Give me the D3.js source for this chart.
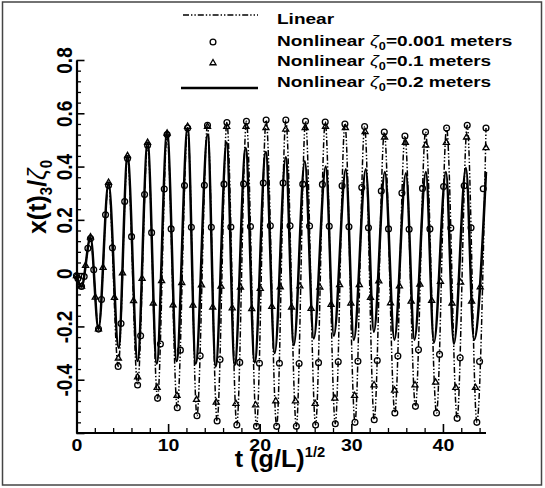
<!DOCTYPE html>
<html><head><meta charset="utf-8">
<script src="https://cdn.jsdelivr.net/npm/d3@7"></script>
<style>
body{margin:0;background:#fff}
svg{display:block}
text{font-family:"Liberation Sans",Arial,Helvetica,sans-serif;font-weight:bold;fill:#000}
</style>
</head><body>
<svg id="c" width="545" height="488"></svg>
<script>
// ---- data: [t, x(t)3/zeta0] ----
const linearPts = [[0,-0.01],[0.55,-0.05],[1.53,0.13],[2.4,-0.21],[3.5,0.33],[4.55,-0.35],[5.57,0.43],[6.67,-0.42],[7.76,0.48],[8.85,-0.47],[9.89,0.52],[11.0,-0.505],[12.13,0.545],[13.15,-0.535],[14.3,0.555],[15.35,-0.555],[16.42,0.565],[17.5,-0.57],[18.55,0.57],[19.65,-0.575],[20.7,0.575],[21.85,-0.575],[22.85,0.575],[24.0,-0.575],[25.0,0.57],[26.1,-0.57],[27.15,0.567],[28.25,-0.565],[29.3,0.56],[30.4,-0.56],[31.45,0.55],[32.5,-0.55],[33.6,0.53],[34.75,-0.525],[35.85,0.515],[37.0,-0.5],[38.1,0.53],[39.3,-0.525],[40.4,0.545],[41.55,-0.545],[42.65,0.555],[43.7,-0.56],[44.7,0.545]];

const nl001Pts = [[0,-0.01],[0.15,-0.02],[0.55,-0.05],[0.84,-0.013],[1.24,0.093],[1.53,0.13],[1.88,0.013],[2.4,-0.21],[2.73,-0.099],[3.17,0.219],[3.5,0.33],[3.92,0.095],[4.55,-0.35],[4.86,-0.189],[5.26,0.269],[5.57,0.43],[6.01,0.137],[6.67,-0.42],[7.0,-0.235],[7.43,0.295],[7.76,0.48],[8.2,0.152],[8.85,-0.47],[9.16,-0.266],[9.58,0.316],[9.89,0.52],[10.33,0.166],[11.0,-0.505],[11.34,-0.289],[11.79,0.329],[12.13,0.545],[12.54,0.172],[13.15,-0.535],[13.5,-0.31],[13.96,0.33],[14.3,0.555],[14.72,0.172],[15.35,-0.555],[15.67,-0.324],[16.1,0.334],[16.42,0.565],[16.85,0.173],[17.5,-0.57],[17.82,-0.335],[18.24,0.335],[18.55,0.57],[18.99,0.175],[19.65,-0.575],[19.97,-0.338],[20.39,0.338],[20.7,0.575],[21.16,0.178],[21.85,-0.575],[22.15,-0.338],[22.55,0.338],[22.85,0.575],[23.31,0.178],[24.0,-0.575],[24.3,-0.339],[24.7,0.334],[25.0,0.57],[25.44,0.177],[26.1,-0.57],[26.42,-0.336],[26.84,0.333],[27.15,0.567],[27.59,0.176],[28.25,-0.565],[28.57,-0.333],[28.99,0.328],[29.3,0.56],[29.74,0.174],[30.4,-0.56],[30.72,-0.331],[31.14,0.321],[31.45,0.55],[31.87,0.17],[32.5,-0.55],[32.83,-0.328],[33.27,0.308],[33.6,0.53],[34.06,0.166],[34.75,-0.525],[35.08,-0.311],[35.52,0.301],[35.85,0.515],[36.31,0.165],[37.0,-0.5],[37.33,-0.288],[37.77,0.318],[38.1,0.53],[38.58,0.166],[39.3,-0.525],[39.63,-0.305],[40.07,0.325],[40.4,0.545],[40.86,0.169],[41.55,-0.545],[41.88,-0.318],[42.32,0.328],[42.65,0.555],[43.07,0.17],[43.7,-0.56],[44.0,-0.332],[44.4,0.317],[44.7,0.545]];

const nl01Pts = [[0,-0.01],[0.55,-0.05],[0.99,0.028],[1.53,0.135],[2.05,-0.091],[2.4,-0.21],[2.9,0.021],[3.5,0.34],[4.14,-0.092],[4.57,-0.32],[5.02,0.0],[5.57,0.44],[6.23,-0.104],[6.67,-0.39],[7.16,-0.02],[7.76,0.49],[8.38,-0.113],[8.8,-0.43],[9.29,-0.029],[9.89,0.525],[10.54,-0.12],[10.97,-0.46],[11.49,-0.036],[12.13,0.55],[12.71,-0.121],[13.1,-0.475],[13.64,-0.045],[14.3,0.55],[14.87,-0.128],[15.25,-0.485],[15.77,-0.05],[16.4,0.55],[17.0,-0.131],[17.4,-0.49],[17.9,-0.053],[18.5,0.55],[19.13,-0.134],[19.55,-0.495],[20.06,-0.058],[20.68,0.545],[21.32,-0.126],[21.75,-0.48],[22.24,-0.052],[22.84,0.54],[23.48,-0.128],[23.9,-0.48],[24.38,-0.049],[24.96,0.545],[25.61,-0.133],[26.05,-0.49],[26.56,-0.053],[27.18,0.55],[27.79,-0.118],[28.2,-0.47],[28.72,-0.044],[29.35,0.545],[29.95,-0.113],[30.35,-0.46],[30.87,-0.044],[31.5,0.53],[32.09,-0.092],[32.48,-0.42],[33.0,-0.03],[33.63,0.51],[34.28,-0.112],[34.72,-0.44],[35.25,-0.049],[35.9,0.49],[36.53,-0.106],[36.95,-0.42],[37.48,-0.042],[38.12,0.48],[38.77,-0.103],[39.2,-0.41],[39.73,-0.032],[40.37,0.49],[40.99,-0.113],[41.4,-0.43],[41.93,-0.035],[42.58,0.51],[43.13,-0.106],[43.55,-0.43],[44.07,-0.052],[44.7,0.47]];

const nl02Pts = [[0,-0.01],[0.55,-0.05],[1.53,0.135],[2.4,-0.21],[3.5,0.34],[4.59,-0.28],[5.57,0.44],[6.67,-0.33],[7.76,0.49],[8.76,-0.34],[9.89,0.53],[10.93,-0.33],[12.13,0.545],[13.01,-0.34],[14.32,0.52],[15.19,-0.35],[16.39,0.49],[17.27,-0.345],[18.47,0.47],[19.45,-0.335],[20.66,0.455],[21.64,-0.3],[22.84,0.435],[23.72,-0.27],[24.92,0.42],[25.9,-0.245],[27.21,0.4],[28.09,-0.235],[29.4,0.39],[30.27,-0.25],[31.58,0.39],[32.46,-0.22],[33.66,0.38],[34.7,-0.25],[35.96,0.375],[36.89,-0.25],[38.14,0.38],[39.02,-0.26],[40.33,0.38],[41.2,-0.265],[42.51,0.395],[43.39,-0.25],[44.7,0.38]];

const xMajorTicks = [0, 10, 20, 30, 40];
const xMinorTicks = [2,4,6,8,12,14,16,18,22,24,26,28,32,34,36,38,42,44];
const yMajorTicks = [-0.6,-0.4,-0.2,0,0.2,0.4,0.6,0.8];
const yMinorTicks = d3.range(-15, 21).filter(i => i % 5 !== 0).map(i => +(i * 0.04).toFixed(2));
const legendZeta = [null, "0.001", "0.1", "0.2"];

// ---- layout ----
const svg = d3.select("#c");
const x = d3.scaleLinear().domain([0, 44.7]).range([76.5, 486]);
const y = d3.scaleLinear().domain([-0.6, 0.8]).range([433, 60]);
const DASH = "6,2,1.4,2,1.4,2";

svg.append("rect").attr("x",2.5).attr("y",2).attr("width",539).attr("height",483)
  .attr("fill","none").attr("stroke","#444").attr("stroke-width",1.5);

const line = d3.line().x(d => x(d[0])).y(d => y(d[1])).curve(d3.curveMonotoneX);

svg.append("path").datum(linearPts).attr("d", line)
  .attr("fill","none").attr("stroke","#000").attr("stroke-width",1.5).attr("stroke-dasharray",DASH);
svg.append("path").datum(nl02Pts).attr("d", line)
  .attr("fill","none").attr("stroke","#000").attr("stroke-width",2.5).attr("stroke-linejoin","round");

const tri = d3.symbol().type(d3.symbolTriangle).size(16);
svg.append("g").selectAll("path").data(nl01Pts).join("path")
  .attr("d", tri).attr("transform", d => `translate(${x(d[0])},${y(d[1])})`)
  .attr("fill","none").attr("stroke","#000").attr("stroke-width",1.3);
svg.append("g").selectAll("circle").data(nl001Pts).join("circle")
  .attr("cx", d => x(d[0])).attr("cy", d => y(d[1])).attr("r",2.9)
  .attr("fill","none").attr("stroke","#000").attr("stroke-width",1.3);

// ---- axes ----
const fmt = d => d === -0.6 ? "" : String(+(+d).toFixed(1));
const gx = svg.append("g").attr("transform","translate(0,433)")
  .call(d3.axisBottom(x).tickValues(xMajorTicks).tickSizeInner(-9).tickSizeOuter(0).tickPadding(6).tickFormat(d => String(d)));
gx.select(".domain").attr("stroke-width",2.2).attr("d","M" + x.range()[0] + ",0H" + x.range()[1]);
gx.selectAll(".tick line").attr("stroke-width",1.6);
gx.attr("font-family",null).attr("font-size",null);
gx.selectAll(".tick text").attr("font-size",17).attr("transform","scale(1.15,1)");

const gxm = svg.append("g").attr("transform","translate(0,433)")
  .call(d3.axisBottom(x).tickValues(xMinorTicks).tickSizeInner(-5).tickSizeOuter(0).tickFormat(() => ""));
gxm.select(".domain").remove();
gxm.selectAll(".tick line").attr("stroke-width",1.3);

const gy = svg.append("g").attr("transform","translate(76.5,0)")
  .call(d3.axisLeft(y).tickValues(yMajorTicks).tickSizeInner(-8).tickSizeOuter(0).tickFormat(fmt));
gy.select(".domain").attr("stroke-width",2.2);
gy.selectAll(".tick line").attr("stroke-width",1.6);
gy.attr("font-family",null).attr("font-size",null);
gy.selectAll(".tick text").attr("font-size",19).attr("x",0).attr("dy",null)
  .attr("text-anchor","middle").attr("transform","translate(-4.5,0) rotate(-90) scale(1,1.2)");

const gym = svg.append("g").attr("transform","translate(76.5,0)")
  .call(d3.axisLeft(y).tickValues(yMinorTicks).tickSizeInner(-4.5).tickSizeOuter(0).tickFormat(() => ""));
gym.select(".domain").remove();
gym.selectAll(".tick line").attr("stroke-width",1.3);

// axis titles
const xt = svg.append("text").attr("transform","translate(280,467) scale(1.05,1)")
  .attr("text-anchor","middle").attr("font-size",24);
xt.append("tspan").text("t (g/L)");
xt.append("tspan").attr("font-size",14).attr("dy",-10).text("1/2");

const yt = svg.append("text").attr("transform","translate(46,197) rotate(-90) scale(1,1.05)")
  .attr("text-anchor","middle").attr("font-size",25);
yt.append("tspan").text("x(t)");
yt.append("tspan").attr("font-size",15).attr("dy",6).text("3");
yt.append("tspan").attr("dy",-6).text("/");
yt.append("tspan").attr("font-style","italic").attr("font-weight","normal").text("ζ");
yt.append("tspan").attr("font-size",15).attr("dy",6).text("0");

// ---- legend ----
const symY = [15, 42, 63, 88];
const txtY = [24, 46, 66, 87];
const lg = svg.append("g");
lg.append("line").attr("x1",183).attr("x2",258).attr("y1",symY[0]).attr("y2",symY[0])
  .attr("stroke","#000").attr("stroke-width",1.5).attr("stroke-dasharray",DASH);
lg.append("circle").attr("cx",213).attr("cy",symY[1]).attr("r",2.9)
  .attr("fill","none").attr("stroke","#000").attr("stroke-width",1.3);
lg.append("path").attr("d",tri).attr("transform",`translate(213,${symY[2]})`)
  .attr("fill","none").attr("stroke","#000").attr("stroke-width",1.3);
lg.append("line").attr("x1",181).attr("x2",258).attr("y1",symY[3]).attr("y2",symY[3])
  .attr("stroke","#000").attr("stroke-width",2.3);

legendZeta.forEach((z, i) => {
  const t = lg.append("text").attr("transform",`translate(277,${txtY[i]}) scale(1.27,1)`).attr("font-size",15);
  if (z === null) { t.text("Linear"); return; }
  t.append("tspan").text("Nonlinear ");
  t.append("tspan").attr("font-style","italic").attr("font-weight","normal").text("ζ");
  t.append("tspan").attr("font-size",10).attr("dy",4).text("0");
  t.append("tspan").attr("dy",-4).text("=" + z + " meters");
});
</script>
</body></html>
